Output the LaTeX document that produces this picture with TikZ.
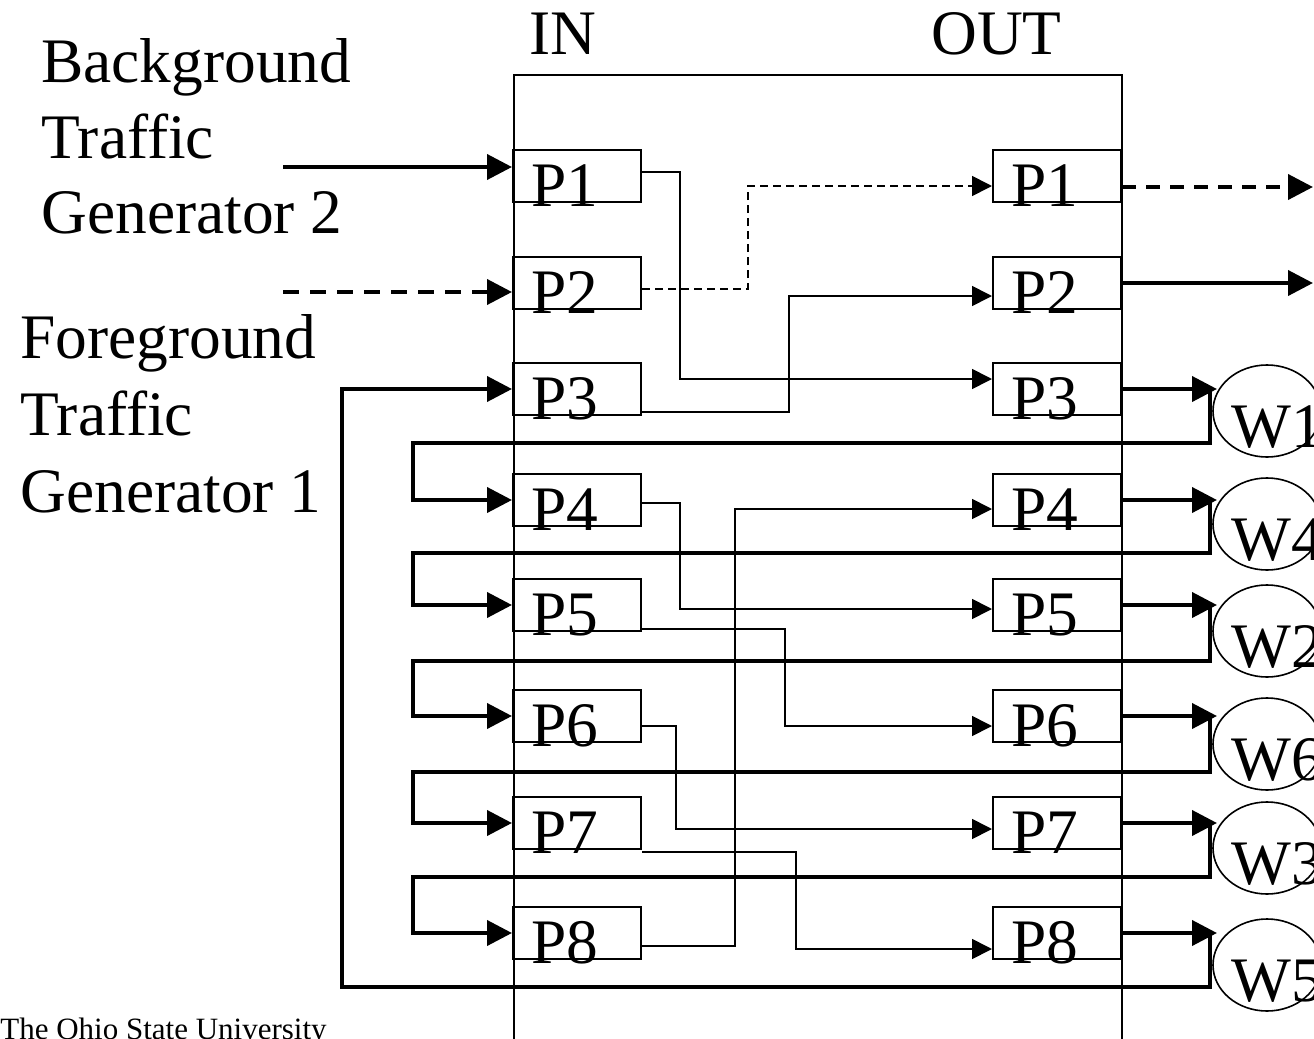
\documentclass[tikz,border=0pt]{standalone}
\usepackage{fontspec}
\setmainfont{Liberation Serif}
\usetikzlibrary{arrows.meta,shapes.geometric}
\begin{document}
\begin{tikzpicture}[x=0.5pt,y=-0.5pt,
  big/.style={font=\fontsize{31.7}{38}\selectfont, inner sep=0pt, anchor=base west},
  small/.style={font=\fontsize{15.5}{18}\selectfont, inner sep=0pt, anchor=base west},
  pbox/.style={draw, line width=1pt, minimum width=64pt, minimum height=26pt, inner sep=0pt},
  conn/.style={line width=0.85pt, -{Triangle[length=10pt,width=10pt]}},
  thickarr/.style={line width=2pt, line join=miter, -{Triangle[length=12.5pt,width=12.5pt]}},
  thickline/.style={line width=2pt, line join=miter},
  wnode/.style={draw, ellipse, line width=0.8pt, minimum width=54pt, minimum height=46pt, inner sep=0pt},
  thickdash/.style={dash pattern=on 7pt off 5pt},
  longdash/.style={dash pattern=on 8pt off 5.5pt},
  thindash/.style={dash pattern=on 4pt off 2.5pt},
]
\useasboundingbox (0,0) rectangle (1314,1039);
\clip (0,0) rectangle (1314,1039);

% switch fabric outline (open at the bottom, clipped)
\node[draw, line width=0.8pt, minimum width=304pt, minimum height=515pt, inner sep=0pt, anchor=north west] (fabric) at (513,74) {};

% labels
\node[big] (lin) at (529,54) {IN};
\node[big] (lout) at (931,54) {OUT};
\node[big] (bg1) at (41,82) {Background};
\node[big] (bg2) at (41,158) {Traffic};
\node[big] (bg3) at (41,233) {Generator 2};
\node[big] (fg1) at (20,358) {Foreground};
\node[big] (fg2) at (20,435) {Traffic};
\node[big] (fg3) at (20,512) {Generator 1};
\node[small] (osu) at (0,1039) {The Ohio State University};

% port boxes
\foreach \i/\y in {1/176,2/283,3/389,4/500,5/605,6/716,7/823,8/933}{
  \node[pbox] (inP\i) at (577,\y) {};
  \node[pbox] (outP\i) at (1057,\y) {};
  \node[big] (tin\i) at (531,\y+30) {P\i};
  \node[big] (tout\i) at (1011,\y+30) {P\i};
}

% W ellipses
\foreach \n/\c in {W1/411,W4/524,W2/631,W6/744,W3/848,W5/965}{
  \node[wnode] (\n) at (1267,\c) {};
  \node[big] (t\n) at (1231,\c+36) {\n};
}

% inputs from generators
\coordinate (bgA) at (283,167);
\coordinate (bgB) at (283,292);
\draw[thickarr] (bgA) -- ([yshift=4.5pt]inP1.west);
\draw[thickarr, longdash] (bgB) -- ([yshift=-4.5pt]inP2.west);

% outputs P1, P2
\coordinate (oA) at (1313,187);
\coordinate (oB) at (1313,283);
\draw[thickarr, thickdash] ([yshift=-5.5pt]outP1.east) -- (oA);
\draw[thickarr] (outP2.east) -- (oB);

% outputs to W nodes
\foreach \i/\y in {3/389,4/500,5/605,6/716,7/823,8/933}{
  \draw[thickarr] (outP\i.east) -- (1217,\y);
}

% feedback loops
\draw[thickarr] (1210,389) -- (1210,443) -- (413,443) -- (413,500) -- (inP4.west);
\draw[thickarr] (1210,500) -- (1210,553) -- (413,553) -- (413,605) -- (inP5.west);
\draw[thickarr] (1210,605) -- (1210,661) -- (413,661) -- (413,716) -- (inP6.west);
\draw[thickarr] (1210,716) -- (1210,772) -- (413,772) -- (413,823) -- (inP7.west);
\draw[thickarr] (1210,823) -- (1210,877) -- (413,877) -- (413,933) -- (inP8.west);
\draw[thickarr] (1210,933) -- (1210,987) -- (342,987) -- (342,389) -- (inP3.west);

% internal crossbar connections
\draw[conn] ([yshift=2pt]inP1.east) -| (680,379) -- ([yshift=5pt]outP3.west);
\draw[conn, thindash] ([yshift=-3pt]inP2.east) -| (748,186) -- ([yshift=-5pt]outP1.west);
\draw[conn] ([yshift=-11.5pt]inP3.east) -| (789,296) -- ([yshift=-6.5pt]outP2.west);
\draw[conn] ([yshift=-1.5pt]inP4.east) -| (680,609) -- ([yshift=-2pt]outP5.west);
\draw[conn] ([yshift=-12pt]inP5.east) -| (785,726) -- ([yshift=-5pt]outP6.west);
\draw[conn] ([yshift=-5pt]inP6.east) -| (676,829) -- ([yshift=-3pt]outP7.west);
\draw[conn] ([yshift=-14.5pt]inP7.east) -| (796,949) -- ([yshift=-8pt]outP8.west);
\draw[conn] ([yshift=-6.5pt]inP8.east) -| (735,509) -- ([yshift=-4.5pt]outP4.west);
\end{tikzpicture}
\end{document}
